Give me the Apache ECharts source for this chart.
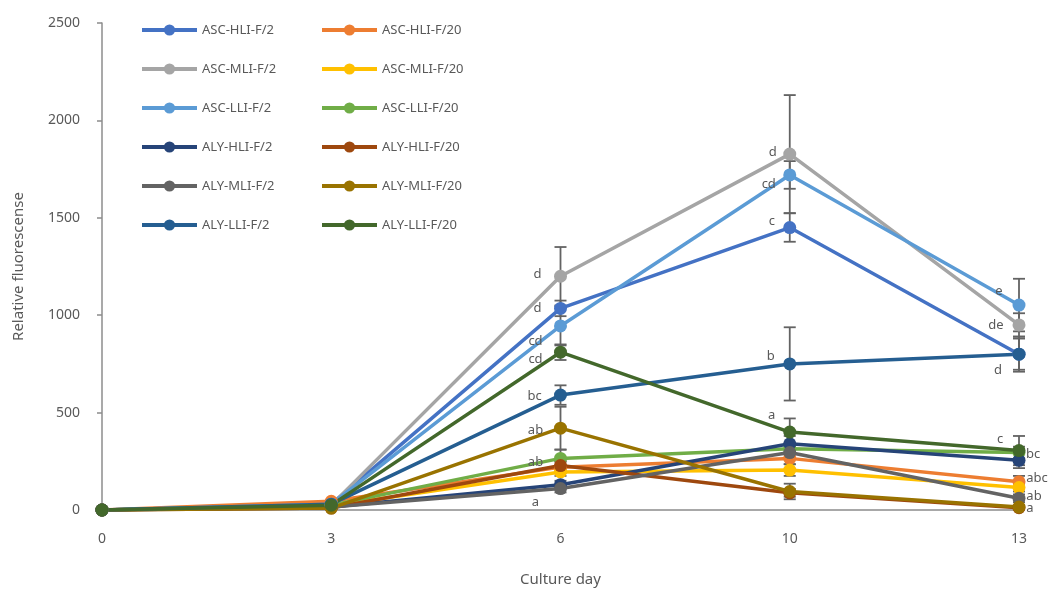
<!DOCTYPE html>
<html>
<head>
<meta charset="utf-8">
<script src="https://cdn.jsdelivr.net/npm/echarts@6/dist/echarts.min.js"></script>
<style>
  html, body { margin: 0; padding: 0; background: #fff; }
  #chart { width: 1049px; height: 592px; }
</style>
</head>
<body>
<div id="chart"></div>
<script>
// Culture days (x categories)
const days = ['0', '3', '6', '10', '13'];
const yTicks = [0, 500, 1000, 1500, 2000, 2500];

// Series names, in drawing order
const seriesNames = [
  'ASC-HLI-F/2', 'ASC-HLI-F/20',
  'ASC-MLI-F/2', 'ASC-MLI-F/20',
  'ASC-LLI-F/2', 'ASC-LLI-F/20',
  'ALY-HLI-F/2', 'ALY-HLI-F/20',
  'ALY-MLI-F/2', 'ALY-MLI-F/20',
  'ALY-LLI-F/2', 'ALY-LLI-F/20'
];

// Mean relative fluorescence per day
const ascHliF2  = [0, 30, 1035, 1450, 800];
const ascHliF20 = [0, 45, 220, 265, 145];
const ascMliF2  = [0, 25, 1200, 1827, 950];
const ascMliF20 = [0, 20, 195, 205, 115];
const ascLliF2  = [0, 30, 945, 1720, 1052];
const ascLliF20 = [0, 25, 265, 315, 295];
const alyHliF2  = [0, 15, 130, 340, 255];
const alyHliF20 = [0, 10, 228, 88, 12];
const alyMliF2  = [0, 15, 110, 295, 60];
const alyMliF20 = [0, 10, 420, 95, 15];
const alyLliF2  = [0, 30, 590, 750, 800];
const alyLliF20 = [0, 25, 810, 400, 305];

// Standard deviations per day
const ascHliF2Sd  = [0, 5, 40, 73, 90];
const ascHliF20Sd = [0, 5, 30, 30, 30];
const ascMliF2Sd  = [0, 5, 150, 303, 60];
const ascMliF20Sd = [0, 5, 20, 30, 20];
const ascLliF2Sd  = [0, 5, 100, 71, 135];
const ascLliF20Sd = [0, 5, 45, 30, 30];
const alyHliF2Sd  = [0, 5, 20, 40, 40];
const alyHliF20Sd = [0, 5, 20, 20, 10];
const alyMliF2Sd  = [0, 5, 20, 30, 20];
const alyMliF20Sd = [0, 5, 110, 40, 10];
const alyLliF2Sd  = [0, 5, 50, 188, 80];
const alyLliF20Sd = [0, 5, 40, 70, 75];

// Significance letters per day
const ascHliF2Sig  = ['', '', 'd', 'c', 'd'];
const ascHliF20Sig = ['', '', '', '', 'abc'];
const ascMliF2Sig  = ['', '', 'd', 'd', 'de'];
const ascMliF20Sig = ['', '', '', '', ''];
const ascLliF2Sig  = ['', '', 'cd', 'cd', 'e'];
const ascLliF20Sig = ['', '', 'ab', '', 'bc'];
const alyHliF2Sig  = ['', '', '', '', ''];
const alyHliF20Sig = ['', '', '', '', ''];
const alyMliF2Sig  = ['', '', 'a', '', 'ab'];
const alyMliF20Sig = ['', '', 'ab', '', 'a'];
const alyLliF2Sig  = ['', '', 'bc', 'b', ''];
const alyLliF20Sig = ['', '', 'cd', 'a', 'c'];

const means = [ascHliF2, ascHliF20, ascMliF2, ascMliF20, ascLliF2, ascLliF20,
               alyHliF2, alyHliF20, alyMliF2, alyMliF20, alyLliF2, alyLliF20];
const sds = [ascHliF2Sd, ascHliF20Sd, ascMliF2Sd, ascMliF20Sd, ascLliF2Sd, ascLliF20Sd,
             alyHliF2Sd, alyHliF20Sd, alyMliF2Sd, alyMliF20Sd, alyLliF2Sd, alyLliF20Sd];
const sigs = [ascHliF2Sig, ascHliF20Sig, ascMliF2Sig, ascMliF20Sig, ascLliF2Sig, ascLliF20Sig,
              alyHliF2Sig, alyHliF20Sig, alyMliF2Sig, alyMliF20Sig, alyLliF2Sig, alyLliF20Sig];

const colors = ['#4472C4', '#ED7D31', '#A5A5A5', '#FFC000', '#5B9BD5', '#70AD47',
                '#264478', '#9E480E', '#636363', '#997300', '#255E91', '#43682B'];

// Pixel offsets of each letter relative to its marker (series index -> day index -> [dx, dy])
const letterOffsets = {
  0: { 2: [-23, 0], 3: [-18, -6], 4: [-21, 16] },
  1: { 4: [18, -3] },
  2: { 2: [-23, -2], 3: [-17, -2], 4: [-23, 0] },
  4: { 2: [-25, 15], 3: [-21, 9], 4: [-20, -14] },
  5: { 2: [-25, 4], 4: [14, 2] },
  8: { 2: [-25, 14], 4: [15, -2] },
  9: { 2: [-25, 2], 4: [11, 1] },
  10: { 2: [-26, 1], 3: [-19, -8] },
  11: { 2: [-25, 7], 3: [-18, -17], 4: [-19, -11] }
};

const textColor = '#595959';
const fontFamily = '"Noto Sans", "Open Sans", sans-serif';

const lineSeries = seriesNames.map((name, si) => ({
  name: name,
  type: 'line',
  z: 3,
  symbol: 'circle',
  symbolSize: 13,
  color: colors[si],
  lineStyle: { width: 3.5, color: colors[si] },
  itemStyle: { color: colors[si] },
  emphasis: { disabled: true },
  animation: false,
  data: means[si].map((v, di) => {
    const letter = sigs[si][di];
    if (!letter) return v;
    const off = (letterOffsets[si] && letterOffsets[si][di]) || [-22, 0];
    return {
      value: v,
      label: {
        show: true,
        position: 'inside',
        offset: off,
        formatter: letter,
        color: textColor,
        fontSize: 13,
        fontFamily: fontFamily
      }
    };
  })
}));

// Error bars drawn as a custom series underneath the lines
const errorSeries = seriesNames.map((name, si) => ({
  name: name + ' SD',
  type: 'custom',
  z: 2,
  silent: true,
  animation: false,
  data: means[si].map((v, di) => [di, v - sds[si][di], v + sds[si][di]]),
  renderItem: function (params, api) {
    const x = api.value(0);
    const lo = api.coord([x, api.value(1)]);
    const hi = api.coord([x, api.value(2)]);
    const w = 6;
    const style = { stroke: '#636363', lineWidth: 1.8 };
    return {
      type: 'group',
      children: [
        { type: 'line', shape: { x1: hi[0], y1: hi[1], x2: lo[0], y2: lo[1] }, style: style },
        { type: 'line', shape: { x1: hi[0] - w, y1: hi[1], x2: hi[0] + w, y2: hi[1] }, style: style },
        { type: 'line', shape: { x1: lo[0] - w, y1: lo[1], x2: lo[0] + w, y2: lo[1] }, style: style }
      ]
    };
  }
}));

const legendCommon = {
  orient: 'vertical',
  top: 23,
  padding: 0,
  itemWidth: 55,
  itemHeight: 14,
  itemGap: 25,
  lineStyle: { width: 4 },
  textStyle: { color: textColor, fontSize: 13, fontFamily: fontFamily, lineHeight: 14 },
  selectedMode: false
};

const option = {
  backgroundColor: '#ffffff',
  animation: false,
  color: colors,
  textStyle: { fontFamily: fontFamily },
  legend: [
    Object.assign({}, legendCommon, {
      left: 140,
      data: seriesNames.filter((n, i) => i % 2 === 0)
    }),
    Object.assign({}, legendCommon, {
      left: 320,
      data: seriesNames.filter((n, i) => i % 2 === 1)
    })
  ],
  grid: { left: 102, right: 30, top: 23, bottom: 82, containLabel: false },
  xAxis: {
    type: 'category',
    data: days,
    boundaryGap: false,
    name: 'Culture day',
    nameLocation: 'middle',
    nameGap: 62,
    nameTextStyle: { color: textColor, fontSize: 15, fontFamily: fontFamily },
    axisLine: { lineStyle: { color: '#8c8c8c', width: 1.5 } },
    axisTick: { show: false },
    axisLabel: { color: textColor, fontSize: 14, margin: 22, fontFamily: fontFamily },
    splitLine: { show: false }
  },
  yAxis: {
    type: 'value',
    min: yTicks[0],
    max: yTicks[yTicks.length - 1],
    interval: yTicks[1] - yTicks[0],
    name: 'Relative fluorescense',
    nameLocation: 'middle',
    nameGap: 76,
    nameRotate: 90,
    nameTextStyle: { color: textColor, fontSize: 15, fontFamily: fontFamily },
    axisLine: { show: true, lineStyle: { color: '#8c8c8c', width: 1.5 } },
    axisTick: { show: true, inside: false, length: 5, lineStyle: { color: '#8c8c8c', width: 1.5 } },
    axisLabel: {
      color: textColor, fontSize: 14, margin: 22, fontFamily: fontFamily,
      formatter: function (v) { return String(v); }
    },
    splitLine: { show: false }
  },
  series: errorSeries.concat(lineSeries)
};

const chart = echarts.init(document.getElementById('chart'), null, { renderer: 'canvas' });
chart.setOption(option);
</script>
</body>
</html>
